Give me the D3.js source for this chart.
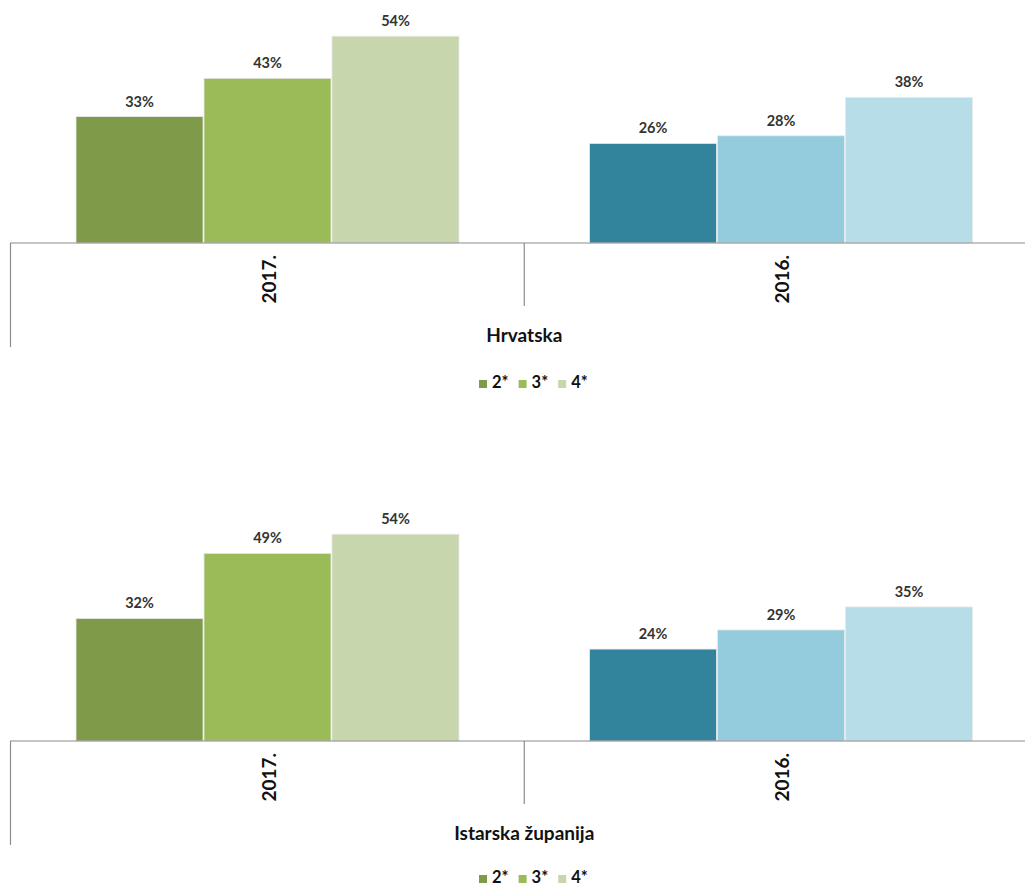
<!DOCTYPE html>
<html>
<head>
<meta charset="utf-8">
<script src="https://cdn.jsdelivr.net/npm/d3@7"></script>
<style>
  html, body { margin: 0; padding: 0; background: #fff; }
  svg { display: block; font-family: Lato, "Open Sans", sans-serif; }
</style>
</head>
<body>
<svg id="chart" width="1025" height="888"></svg>
<script>
// ---- data ----
const categories = ["2017.", "2016."];
const series = ["2*", "3*", "4*"];
const panelTitles = ["Hrvatska", "Istarska županija"];
const hrvatska2017 = [33, 43, 54];
const hrvatska2016 = [26, 28, 38];
const istra2017 = [32, 49, 54];
const istra2016 = [24, 29, 35];
const colors2017 = ["#7F9A48", "#9BBB59", "#C7D6AC"];
const colors2016 = ["#31849B", "#95CCDD", "#B7DEE8"];

const panels = [
  { title: panelTitles[0], values: [hrvatska2017, hrvatska2016], top: 0 },
  { title: panelTitles[1], values: [istra2017, istra2016], top: 498 }
];
const catColors = [colors2017, colors2016];

const svg = d3.select("#chart");

const x0 = d3.scaleBand().domain(categories).range([10.75, 1037.75]).paddingInner(0).paddingOuter(0);
const x1 = d3.scaleBand().domain(series).range([0, x0.bandwidth()]).paddingOuter(0.506).paddingInner(0);
const baseY = 243;
const y = d3.scaleLinear().domain([0, 60]).range([baseY, baseY - 3.83 * 60]);

panels.forEach(p => {
  const g = svg.append("g").attr("transform", `translate(0,${p.top})`);

  categories.forEach((cat, ci) => {
    const cg = g.append("g").attr("transform", `translate(${x0(cat)},0)`);
    const rows = series.map((s, si) => ({ s, v: p.values[ci][si], c: catColors[ci][si] }));
    cg.selectAll("rect.bar").data(rows).join("rect")
      .attr("class", "bar")
      .attr("x", d => x1(d.s) + 0.5)
      .attr("width", x1.bandwidth() - 1)
      .attr("y", d => y(d.v))
      .attr("height", d => y(0) - y(d.v))
      .attr("fill", d => d.c)
      .attr("stroke", "#e9e9e9")
      .attr("stroke-width", 0.8);
    cg.selectAll("text.lbl").data(rows).join("text")
      .attr("class", "lbl")
      .attr("x", d => x1(d.s) + x1.bandwidth() / 2)
      .attr("y", d => y(d.v) - 10)
      .attr("text-anchor", "middle")
      .attr("font-size", 14.5)
      .attr("font-weight", "bold")
      .attr("fill", "#333")
      .text(d => d.v + "%");
    // category label (rotated)
    const cx = x0.bandwidth() / 2 + 8;
    cg.append("text")
      .attr("transform", `translate(${cx},${baseY + 12}) rotate(-90)`)
      .attr("text-anchor", "end")
      .attr("font-size", 19)
      .attr("font-weight", "bold")
      .attr("fill", "#111")
      .text(cat);
  });

  // axis line and dividers
  g.append("line").attr("x1", 10).attr("x2", 1025).attr("y1", baseY).attr("y2", baseY)
    .attr("stroke", "#8c8c8c").attr("stroke-width", 1.2);
  g.append("line").attr("x1", 10.5).attr("x2", 10.5).attr("y1", baseY).attr("y2", baseY + 104)
    .attr("stroke", "#8c8c8c").attr("stroke-width", 1.2);
  g.append("line").attr("x1", x0(categories[1])).attr("x2", x0(categories[1]))
    .attr("y1", baseY).attr("y2", baseY + 63)
    .attr("stroke", "#8c8c8c").attr("stroke-width", 1.2);

  // group title
  g.append("text")
    .attr("x", x0(categories[1]))
    .attr("y", baseY + 98.5)
    .attr("text-anchor", "middle")
    .attr("font-size", 19)
    .attr("font-weight", "bold")
    .attr("fill", "#111")
    .text(p.title);

  // legend (kept inside the page bottom edge)
  const legendY = Math.min(baseY + 136, 888 - p.top - 14);
  const lg = g.append("g").attr("transform", `translate(479,${legendY})`);
  const items = lg.selectAll("g").data(series).join("g")
    .attr("transform", (d, i) => `translate(${i * 39.6},0)`);
  items.append("rect").attr("x", 0).attr("y", 1).attr("width", 8).attr("height", 8)
    .attr("fill", (d, i) => colors2017[i]);
  items.append("text").attr("x", 13).attr("y", 9)
    .attr("font-size", 16.5).attr("font-weight", "bold").attr("fill", "#111")
    .text(d => d);
});
</script>
</body>
</html>
